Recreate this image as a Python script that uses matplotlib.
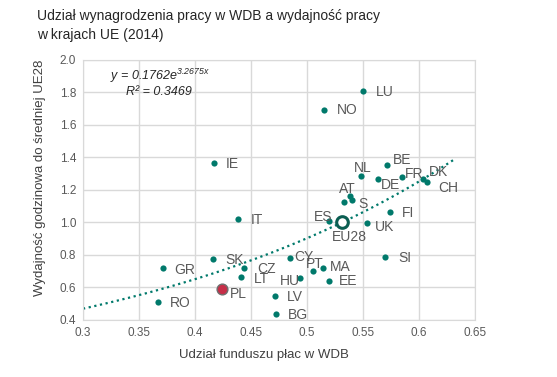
import numpy as np
import matplotlib
matplotlib.use("Agg")
import matplotlib.pyplot as plt

plt.rcParams['font.family'] = ['Liberation Sans', 'DejaVu Sans']
plt.rcParams['mathtext.fontset'] = 'custom'
plt.rcParams['mathtext.rm'] = 'Liberation Sans:italic'
plt.rcParams['mathtext.it'] = 'Liberation Sans:italic'

# data
countries = ['LU', 'NO', 'IE', 'BE', 'NL', 'DE', 'FR', 'DK', 'CH', 'AT', 'S', '',
             'FI', 'ES', 'UK', 'SI', 'MA', 'PT', 'EE', 'CY', 'HU', 'IT', 'SK',
             'GR', 'CZ', 'LT', 'RO', 'LV', 'BG']
wage_share = [0.550, 0.515, 0.417, 0.571, 0.548, 0.563, 0.585, 0.604, 0.607, 0.538, 0.540, 0.533,
              0.574, 0.520, 0.554, 0.570, 0.514, 0.505, 0.520, 0.485, 0.494, 0.438, 0.416,
              0.371, 0.444, 0.441, 0.367, 0.471, 0.472]
productivity = [1.81, 1.69, 1.364, 1.354, 1.286, 1.268, 1.28, 1.268, 1.248, 1.164, 1.139, 1.125,
                1.064, 1.006, 0.996, 0.788, 0.72, 0.704, 0.638, 0.782, 0.659, 1.021, 0.775,
                0.72, 0.72, 0.665, 0.509, 0.548, 0.436]
# label offsets in pixels (dx right, dy down) and alignment
offsets = [(13, 1), (13, 0), (12, 1), (6, -5), (2, -8), (3, 6), (3, -3), (5, -7), (11, 6),
           (-2, -7), (7, 4), (0, 0), (12, 1), (3, -4), (7, 4), (13, 1), (7, -1), (2, -7),
           (9, 0), (4, -1), (0, 3), (13, 1), (12, 1), (12, 2), (13, 1), (13, 2), (12, 1),
           (12, 1), (12, 1)]
align = ['left'] * len(countries)
for c in ['NL', 'AT', 'PT']:
    align[countries.index(c)] = 'center'
for c in ['ES', 'HU']:
    align[countries.index(c)] = 'right'

pl_point = (0.424, 0.589)
eu_point = (0.531, 1.0)
trend_a, trend_b = 0.1762, 3.2675

teal = '#00796B'
grey_txt = '#595959'
grid_c = '#D9D9D9'

fig = plt.figure(figsize=(5.57, 3.77), dpi=100)
ax = fig.add_axes([83/557, 1 - 320/377, (475-83)/557, (320-59.7)/377])

tx = np.linspace(0.3, 0.632, 100)
ax.plot(tx, trend_a * np.exp(trend_b * tx), color=teal, lw=1.6, ls=(0, (1, 1.6)), zorder=2)

ax.scatter(wage_share, productivity, s=20, color=teal, zorder=3, linewidths=0)
ax.scatter([pl_point[0]], [pl_point[1]], s=60, color='#C62E48', edgecolor='#6E6E6E',
           linewidths=1.0, zorder=4)
ax.scatter([eu_point[0]], [eu_point[1]], s=70, facecolor='white', edgecolor='#0B5E52',
           linewidths=2.2, zorder=4)

px = 0.72  # points per pixel
for c, x, y, (dx, dy), ha in zip(countries, wage_share, productivity, offsets, align):
    if not c:
        continue
    ax.annotate(c, (x, y), xytext=(dx * px, -dy * px), textcoords='offset points',
                ha=ha, va='center', fontsize=10, color=grey_txt, zorder=5)
ax.annotate('PL', pl_point, xytext=(8 * px, -5 * px), textcoords='offset points',
            ha='left', va='center', fontsize=10, color=grey_txt)
ax.annotate('EU28', eu_point, xytext=(8 * px, -15 * px), textcoords='offset points',
            ha='center', va='center', fontsize=10, color=grey_txt)

ax.set_xlim(0.3, 0.65)
ax.set_ylim(0.4, 2.0)
ax.set_xticks(np.arange(0.3, 0.651, 0.05))
ax.set_xticklabels(['0.3', '0.35', '0.4', '0.45', '0.5', '0.55', '0.6', '0.65'])
ax.set_yticks(np.arange(0.4, 2.01, 0.2))
ax.set_yticklabels(['%.1f' % v for v in np.arange(0.4, 2.01, 0.2)])
ax.tick_params(length=0, labelsize=8.5, labelcolor=grey_txt, pad=5)
ax.grid(True, color=grid_c, lw=1)
ax.set_axisbelow(True)
for s in ax.spines.values():
    s.set_color(grid_c)

ax.text(0.069, 0.937, r'y = 0.1762e$^{3.2675x}$', transform=ax.transAxes,
        fontsize=9, style='italic', color='#262626', va='center')
ax.text(0.109, 0.877, 'R² = 0.3469', transform=ax.transAxes,
        fontsize=9, style='italic', color='#262626', va='center')

fig.text(37/557, 1 - 16/377, 'Udział wynagrodzenia pracy w WDB a wydajność pracy',
         fontsize=10, color='#262626', va='center')
fig.text(37/557, 1 - 35/377, 'w krajach UE (2014)',
         fontsize=10, color='#262626', va='center')
fig.text(40/557, 1 - 178/377, 'Wydajność godzinowa do średniej UE28', rotation=90,
         fontsize=9.5, color='#404040', ha='center', va='center')
fig.text(264/557, 1 - 355/377, 'Udział funduszu płac w WDB',
         fontsize=9.5, color='#404040', ha='center', va='center')

fig.savefig('out.png', dpi=100)
